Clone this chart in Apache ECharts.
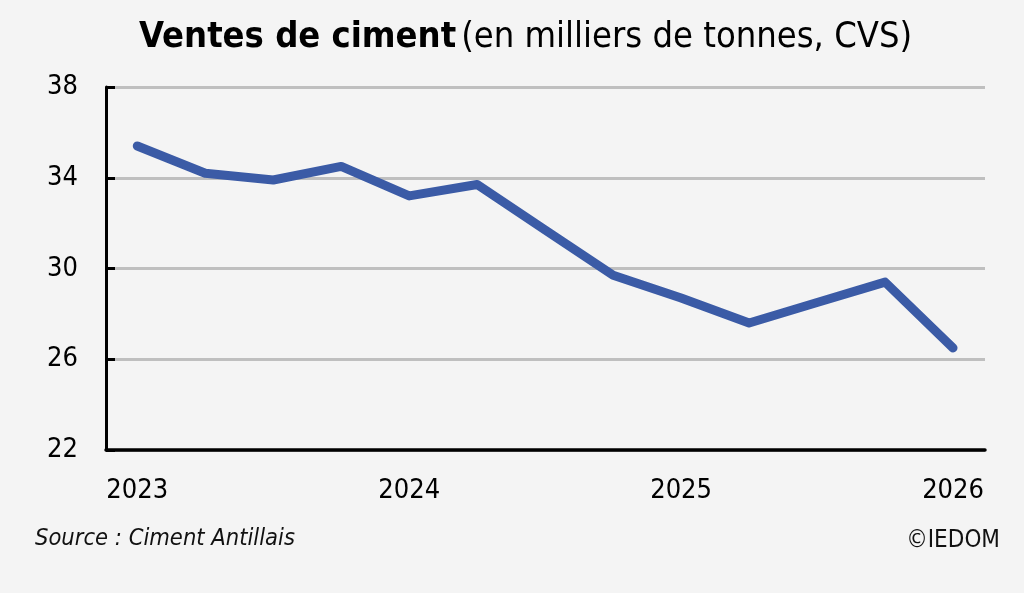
<!DOCTYPE html>
<html>
<head>
<meta charset="utf-8">
<script src="https://cdn.jsdelivr.net/npm/echarts@6/dist/echarts.min.js"></script>
<style>
  html, body { margin: 0; padding: 0; background: #f4f4f4; }
  #chart { width: 1024px; height: 593px; }
</style>
</head>
<body>
<div id="chart"></div>
<script>
// trimestres, de T1 2023 a T1 2026
var quarters = ['T1 2023','T2 2023','T3 2023','T4 2023','T1 2024','T2 2024','T3 2024','T4 2024',
                'T1 2025','T2 2025','T3 2025','T4 2025','T1 2026'];
var ventes = [35.4, 34.2, 33.9, 34.5, 33.2, 33.7, 31.7, 29.7, 28.7, 27.6, 28.5, 29.4, 26.5];
var yearTicks = [0, 4, 8, 12];
var yearLabels = ['2023', '2024', '2025', '2026'];
var yTicks = [22, 26, 30, 34, 38];

var font = "'DejaVu Sans Condensed', 'DejaVu Sans', sans-serif";

var myChart = echarts.init(document.getElementById('chart'));
var option = {
    backgroundColor: '#f4f4f4',
    animation: false,
    title: {
        text: '{b|Ventes de ciment} {n|(en milliers de tonnes, CVS)}',
        left: 134,
        top: 15,
        textStyle: {
            rich: {
                b: { fontFamily: font, fontWeight: 'bold', fontSize: 36, color: '#000' },
                n: { fontFamily: font, fontWeight: 'normal', fontSize: 36, color: '#000' }
            }
        }
    },
    graphic: [
        {
            type: 'text', left: 35, top: 527,
            style: { text: 'Source : Ciment Antillais', font: 'italic 23.5px ' + font, fill: '#111' }
        },
        {
            type: 'text', right: 24, top: 529,
            style: { text: '©IEDOM', font: '24px ' + font, fill: '#111' }
        }
    ],
    grid: { left: 106, right: 39, top: 87, bottom: 143 },
    xAxis: {
        type: 'value',
        min: -0.46,
        max: 12.47,
        axisLine: { show: true, onZero: false, lineStyle: { color: '#000', width: 3.5 } },
        axisTick: { show: false },
        splitLine: { show: false },
        axisLabel: {
            customValues: yearTicks,
            margin: 27,
            fontFamily: font,
            fontSize: 27,
            color: '#000',
            formatter: function (v) { return yearLabels[yearTicks.indexOf(Math.round(v))]; }
        }
    },
    yAxis: {
        type: 'value',
        min: yTicks[0],
        max: yTicks[yTicks.length - 1],
        interval: 4,
        axisLine: { show: true, onZero: false, lineStyle: { color: '#000', width: 3 } },
        axisTick: { show: true, inside: true, length: 9, lineStyle: { color: '#000', width: 3 } },
        splitLine: { show: true, lineStyle: { color: '#bfbfbf', width: 3 } },
        axisLabel: { margin: 28, fontFamily: font, fontSize: 27, color: '#000' }
    },
    series: [
        {
            name: 'Ventes de ciment',
            type: 'line',
            data: ventes.map(function (v, i) { return [i, v]; }),
            showSymbol: false,
            lineStyle: { color: '#3b5ba6', width: 9, cap: 'round', join: 'round' }
        }
    ]
};
myChart.setOption(option);
</script>
</body>
</html>
